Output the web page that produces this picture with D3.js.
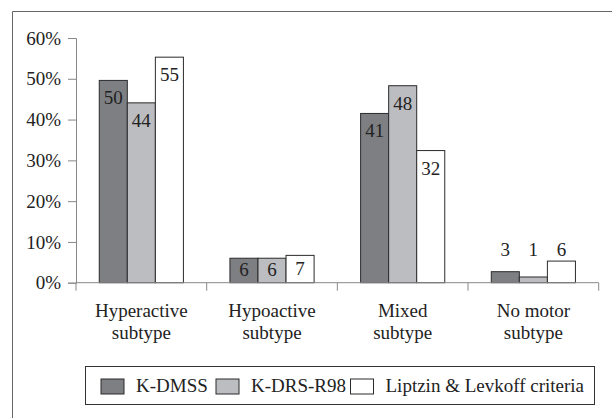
<!DOCTYPE html>
<html>
<head>
<meta charset="utf-8">
<script src="https://cdn.jsdelivr.net/npm/d3@7"></script>
<style>
  body { margin:0; background:#fff; }
  svg { display:block; }
</style>
</head>
<body>
<div id="chart"></div>
<script>
var categories = [["Hyperactive","subtype"],["Hypoactive","subtype"],["Mixed","subtype"],["No motor","subtype"]];
var seriesNames = ["K-DMSS","K-DRS-R98","Liptzin & Levkoff criteria"];
var kdmss   = [49.6, 6.0, 41.5, 2.7];
var kdrs    = [44.1, 6.0, 48.3, 1.4];
var liptzin = [55.3, 6.7, 32.4, 5.3];
var kdmssLabels   = [50, 6, 41, 3];
var kdrsLabels    = [44, 6, 48, 1];
var liptzinLabels = [55, 7, 32, 6];
var yTicks = [0, 10, 20, 30, 40, 50, 60];

var series = [kdmss, kdrs, liptzin];
var labels = [kdmssLabels, kdrsLabels, liptzinLabels];
var fills = ["#7e7f83", "#bcbdc0", "#ffffff"];
var font = "'Liberation Serif'";
var fontSize = "19px";

var width = 612, height = 418;
var svg = d3.select("#chart").append("svg").attr("width", width).attr("height", height);

// outer frame (cropped on right/bottom)
svg.append("path").attr("d", "M12.5," + height + "V11.5H" + width)
  .attr("fill", "none").attr("stroke", "#666").attr("stroke-width", 1);

var x0 = d3.scaleBand().domain(d3.range(categories.length)).range([76, 598.7]);
var x1 = d3.scaleBand().domain(d3.range(series.length))
  .range([x0.bandwidth() * 0.178, x0.bandwidth() * 0.822]);
var y = d3.scaleLinear().domain([0, 60]).range([282.7, 38]);

// y axis
var yAxis = svg.append("g").attr("transform", "translate(76,0)")
  .call(d3.axisLeft(y).tickValues(yTicks).tickFormat(function(d){ return d + "%"; }).tickSize(8).tickPadding(7));
yAxis.select(".domain").attr("stroke", "#888");
yAxis.selectAll(".tick line").attr("stroke", "#888");
yAxis.selectAll("text").style("font-family", font).style("font-size", fontSize).attr("fill", "#222");

// bars
var groups = svg.append("g").selectAll("g")
  .data(categories).enter().append("g")
  .attr("transform", function(d, i){ return "translate(" + x0(i) + ",0)"; });

groups.each(function(c, ci){
  var g = d3.select(this);
  var groupMax = d3.max(series, function(s){ return s[ci]; });
  series.forEach(function(s, si){
    var v = s[ci];
    g.append("rect")
      .attr("x", x1(si)).attr("width", x1.bandwidth())
      .attr("y", y(v)).attr("height", y(0) - y(v))
      .attr("fill", fills[si]).attr("stroke", "#2b2b2b").attr("stroke-width", 1);
    var ly;
    if (v > 20) ly = y(v) + 24;
    else if (groupMax > 6) ly = (y(v) + y(0)) / 2 + 6;
    else ly = y(groupMax) - 5;
    g.append("text")
      .attr("x", x1(si) + x1.bandwidth() / 2).attr("y", ly)
      .attr("text-anchor", "middle").attr("fill", "#222")
      .style("font-family", font).style("font-size", fontSize)
      .text(labels[si][ci]);
  });
});

// x axis
var xAxisG = svg.append("g");
xAxisG.append("line").attr("x1", 76).attr("x2", 598.7).attr("y1", y(0)).attr("y2", y(0))
  .attr("stroke", "#888");
d3.range(categories.length + 1).forEach(function(i){
  var xp = i < categories.length ? x0(i) : x0.range()[1];
  xAxisG.append("line").attr("x1", xp).attr("x2", xp).attr("y1", y(0)).attr("y2", y(0) + 8)
    .attr("stroke", "#888");
});
groups.append("text")
  .attr("x", x0.bandwidth() / 2).attr("y", 317)
  .attr("text-anchor", "middle").attr("fill", "#222")
  .style("font-family", font).style("font-size", fontSize)
  .selectAll("tspan").data(function(d){ return d; }).enter().append("tspan")
  .attr("x", x0.bandwidth() / 2).attr("dy", function(d, i){ return i ? 22 : 0; })
  .text(function(d){ return d; });

// legend
var legend = svg.append("g");
legend.append("rect").attr("x", 85.5).attr("y", 366.5).attr("width", 509).attr("height", 38)
  .attr("fill", "#fff").attr("stroke", "#333");
var legX = [101, 216, 350.5];
seriesNames.forEach(function(n, i){
  legend.append("rect").attr("x", legX[i]).attr("y", 379).attr("width", 23).attr("height", 15)
    .attr("fill", fills[i]).attr("stroke", "#2b2b2b");
  legend.append("text").attr("x", legX[i] + 35).attr("y", 392).attr("fill", "#222")
    .style("font-family", font).style("font-size", fontSize).text(n);
});
</script>
</body>
</html>
